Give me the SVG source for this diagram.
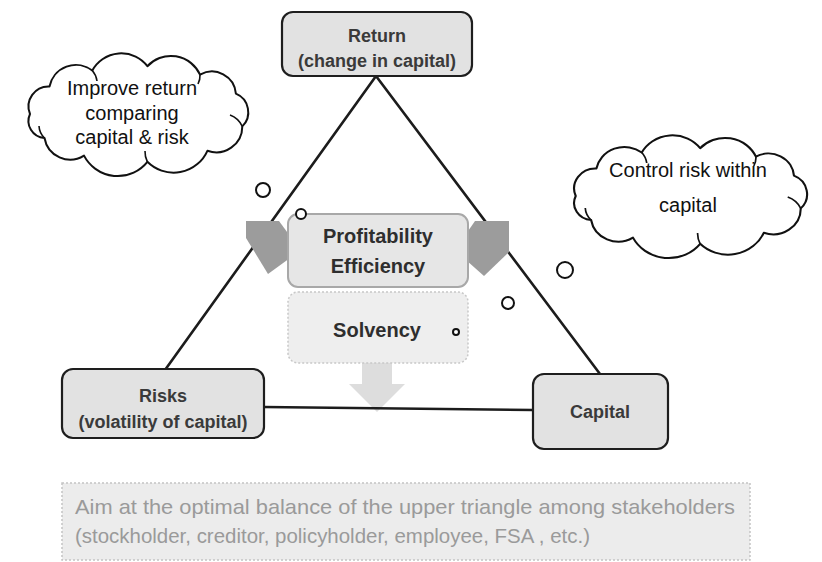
<svg xmlns="http://www.w3.org/2000/svg" width="822" height="562" viewBox="0 0 822 562">
  <defs>
    <style>
      .box { fill: #e2e2e2; stroke: #1e1e1e; stroke-width: 2.2; }
      .lbl { font-family: "Liberation Sans", Arial, sans-serif; font-weight: bold; font-size: 18px; fill: #3a3a3a; text-anchor: middle; }
      .mid { font-family: "Liberation Sans", Arial, sans-serif; font-weight: bold; font-size: 20px; fill: #2e2e2e; text-anchor: middle; }
      .cloud { fill: #ffffff; stroke: #111; stroke-width: 2; vector-effect: non-scaling-stroke; stroke-linejoin: round; }
      .curl { fill: none; stroke: #111; stroke-width: 1.6; vector-effect: non-scaling-stroke; }
      .ctext { font-family: "Liberation Sans", Arial, sans-serif; font-size: 20px; fill: #111; text-anchor: middle; }
      .bubble { fill: #ffffff; stroke: #111; stroke-width: 2; }
      .edge { stroke: #1c1c1c; stroke-width: 2.6; fill: none; stroke-linecap: round; }
      .bigarrow { fill: #9c9c9c; }
      .note { font-family: "Liberation Sans", Arial, sans-serif; font-size: 21px; fill: #9a9a9a; }
    </style>
    <path id="cloudShape" d="M 12,60 A 20,20 0 0 1 31.5,32.5 A 27,27 0 0 1 74.3,16.5 A 33,33 0 0 1 129.4,12.2 A 32,32 0 0 1 182,20.7 A 24,24 0 0 1 217.9,39.7 A 20,20 0 0 1 224.3,72.4 A 26,26 0 0 1 189.4,96.8 A 37,37 0 0 1 129.4,107.8 A 38,38 0 0 1 66,101.6 A 26,26 0 0 1 26.5,84 A 17,17 0 0 1 12,60 Z"/>
    <path id="cloudCurls" d="M 26.5,84 A 18,18 0 0 1 21,72 M 74.3,16.5 A 20,20 0 0 1 79,27 M 224.3,72.4 A 22,22 0 0 0 212,61 M 129.4,107.8 A 22,22 0 0 1 127,97 M 182,20.7 A 18,18 0 0 1 180,30"/>
  </defs>

  <rect width="822" height="562" fill="#ffffff"/>

  <!-- thought clouds -->
  <g id="cloud-return">
    <g transform="translate(18,54)">
      <use href="#cloudShape" class="cloud"/>
      <use href="#cloudCurls" class="curl"/>
    </g>
    <text class="ctext" x="132" y="95">Improve return</text>
    <text class="ctext" x="132" y="120">comparing</text>
    <text class="ctext" x="132" y="144">capital &amp; risk</text>
  </g>
  <g id="cloud-risk">
    <g transform="translate(563,136) scale(1.06,1)">
      <use href="#cloudShape" class="cloud"/>
      <use href="#cloudCurls" class="curl"/>
    </g>
    <text class="ctext" x="688" y="177">Control risk within</text>
    <text class="ctext" x="688" y="212">capital</text>
  </g>

  <!-- connectors: triangle sides and block arrows -->
  <g id="connectors">
    <polygon points="362,363 392,363 392,384 405,384 377,412 349,384 362,384" fill="#dddddd"/>
    <line class="edge" x1="376" y1="76" x2="165" y2="370"/>
    <line class="edge" x1="376" y1="76" x2="600" y2="374"/>
    <line class="edge" x1="264" y1="407" x2="533" y2="410"/>
    <polygon class="bigarrow" points="246,221 279,221 290,236 290,258 268,274 246,238"/>
    <polygon class="bigarrow" points="509,221 509,252 484,276 466,260 466,234 475,221"/>
  </g>

  <g id="node-return">
    <rect class="box" x="282" y="12" width="190" height="64" rx="11"/>
    <text class="lbl" x="377" y="42">Return</text>
    <text class="lbl" x="377" y="67">(change in capital)</text>
  </g>

  <g id="node-risks">
    <rect class="box" x="62" y="369" width="202" height="69" rx="11"/>
    <text class="lbl" x="163" y="402">Risks</text>
    <text class="lbl" x="163" y="428">(volatility of capital)</text>
  </g>

  <g id="node-capital">
    <rect class="box" x="533" y="374" width="135" height="75" rx="11" fill="#e8e8e8"/>
    <text class="lbl" x="600" y="418" fill="#222">Capital</text>
  </g>

  <g id="node-profitability">
    <rect x="288" y="214" width="180" height="73" rx="10" fill="#e6e6e6" stroke="#a8a8a8" stroke-width="2"/>
    <text class="mid" x="378" y="243">Profitability</text>
    <text class="mid" x="378" y="273">Efficiency</text>
  </g>

  <g id="node-solvency">
    <rect x="288" y="292" width="180" height="71" rx="10" fill="#eeeeee" stroke="#c8c8c8" stroke-width="1.5" stroke-dasharray="2 2"/>
    <text class="mid" x="377" y="337" fill="#222">Solvency</text>
  </g>

  <!-- thought bubbles -->
  <g id="bubbles">
    <circle class="bubble" cx="263" cy="190" r="7"/>
    <circle class="bubble" cx="301" cy="214" r="5"/>
    <circle class="bubble" cx="565" cy="270" r="8"/>
    <circle class="bubble" cx="508" cy="303" r="6"/>
    <circle class="bubble" cx="456" cy="332" r="3"/>
  </g>

  <g id="node-aim">
    <rect x="62" y="483" width="688" height="77" fill="#ececec" stroke="#c4c4c4" stroke-width="1.5" stroke-dasharray="2 2"/>
    <text class="note" x="75" y="514" textLength="660" lengthAdjust="spacingAndGlyphs">Aim at the optimal balance of the upper triangle among stakeholders</text>
    <text class="note" x="75" y="543" textLength="515" lengthAdjust="spacingAndGlyphs">(stockholder, creditor, policyholder, employee, FSA , etc.)</text>
  </g>
</svg>
